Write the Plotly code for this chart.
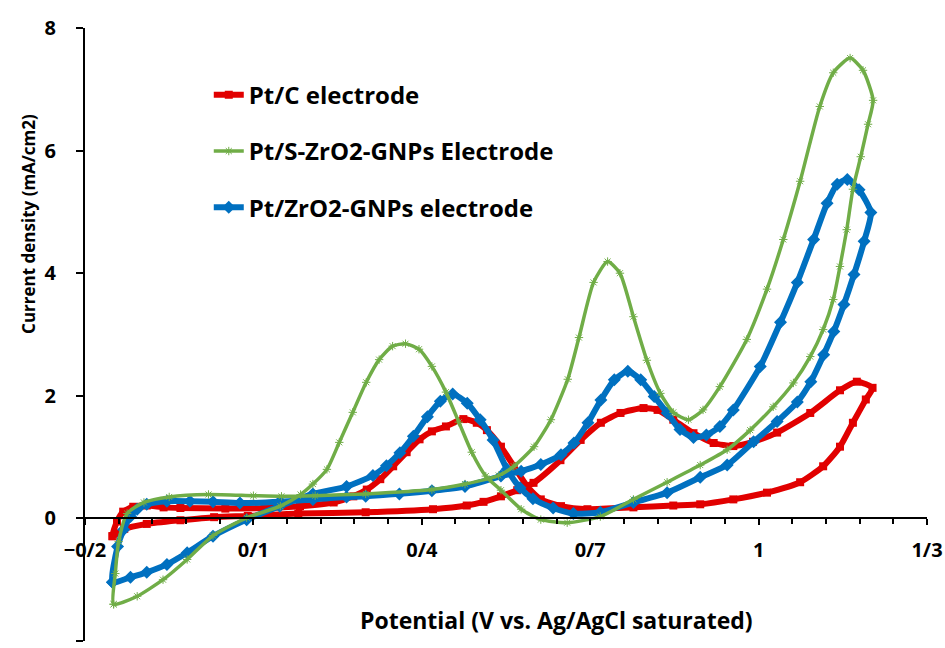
import plotly.graph_objects as go

# ---- data ----
ptc_potential = [-0.151, -0.13, -0.09, -0.03, 0.03, 0.09, 0.18, 0.30, 0.42, 0.48, 0.51, 0.541, 0.57,
                 0.599, 0.647, 0.683, 0.719, 0.754, 0.795, 0.820, 0.848, 0.884, 0.920, 0.955, 0.990,
                 1.033, 1.092, 1.145, 1.175, 1.203,
                 1.191, 1.168, 1.145, 1.115, 1.074, 1.015, 0.955, 0.896, 0.848, 0.777, 0.695, 0.648,
                 0.612, 0.588, 0.564, 0.541, 0.516, 0.498, 0.474, 0.443, 0.418, 0.396, 0.373, 0.349,
                 0.326, 0.302, 0.278, 0.243, 0.183, 0.12, 0.05, -0.03, -0.06, -0.09, -0.114, -0.132,
                 -0.143, -0.151]
ptc_current = [-0.29, -0.17, -0.09, -0.03, 0.02, 0.04, 0.08, 0.10, 0.15, 0.21, 0.27, 0.36, 0.46,
               0.58, 0.95, 1.28, 1.56, 1.72, 1.80, 1.77, 1.61, 1.39, 1.23, 1.18, 1.25,
               1.40, 1.72, 2.09, 2.23, 2.13,
               1.94, 1.56, 1.17, 0.85, 0.59, 0.42, 0.31, 0.23, 0.21, 0.18, 0.15, 0.20,
               0.31, 0.52, 0.85, 1.17, 1.44, 1.56, 1.62, 1.50, 1.42, 1.29, 1.08, 0.85,
               0.64, 0.47, 0.36, 0.26, 0.20, 0.17, 0.16, 0.17, 0.18, 0.21, 0.19, 0.11,
               -0.05, -0.29]

szrgnp_potential = [-0.149, -0.146, -0.140, -0.125, -0.095, -0.05, 0.02, 0.10, 0.15, 0.21, 0.30, 0.418,
                    0.477, 0.537, 0.564, 0.600, 0.630, 0.660, 0.680, 0.706, 0.731, 0.753, 0.777, 0.801,
                    0.825, 0.848, 0.875, 0.901, 0.931, 0.979, 1.015, 1.044, 1.074, 1.109, 1.133, 1.163,
                    1.186, 1.204,
                    1.195, 1.182, 1.168, 1.157, 1.145, 1.133, 1.115, 1.092, 1.062, 1.026, 0.985, 0.944,
                    0.896, 0.837, 0.777, 0.718, 0.659, 0.612, 0.577, 0.541, 0.514, 0.489, 0.466, 0.443,
                    0.418, 0.395, 0.371, 0.348, 0.324, 0.301, 0.277, 0.253, 0.231, 0.206, 0.184, 0.148,
                    0.088, 0.028, -0.018, -0.061, -0.107, -0.149]
szrgnp_current = [-1.40, -0.90, -0.38, 0.08, 0.26, 0.35, 0.39, 0.37, 0.36, 0.37, 0.40, 0.47,
                  0.56, 0.70, 0.85, 1.17, 1.61, 2.27, 2.95, 3.85, 4.19, 4.00, 3.29, 2.58,
                  2.04, 1.73, 1.61, 1.77, 2.15, 2.92, 3.74, 4.55, 5.50, 6.72, 7.27, 7.51,
                  7.31, 6.82,
                  6.43, 5.90, 5.37, 4.71, 4.11, 3.57, 3.08, 2.64, 2.21, 1.82, 1.44, 1.12,
                  0.87, 0.59, 0.31, 0.03, -0.07, -0.02, 0.15, 0.46, 0.69, 1.08, 1.57, 2.06,
                  2.48, 2.76, 2.85, 2.81, 2.59, 2.22, 1.73, 1.24, 0.80, 0.56, 0.39, 0.20,
                  0.01, -0.28, -0.67, -1.00, -1.27, -1.40]

zrgnp_potential = [-0.151, -0.142, -0.131, -0.119, -0.107, -0.09, -0.054, -0.013, 0.028, 0.076, 0.147,
                   0.206, 0.266, 0.30, 0.36, 0.418, 0.477, 0.541, 0.577, 0.612, 0.648, 0.671, 0.696,
                   0.719, 0.743, 0.767, 0.790, 0.814, 0.837, 0.860, 0.884, 0.907, 0.931, 0.955, 1.003,
                   1.039, 1.069, 1.098, 1.122, 1.140, 1.158, 1.179, 1.200,
                   1.188, 1.170, 1.152, 1.134, 1.116, 1.093, 1.069, 1.033, 0.991, 0.944, 0.896, 0.837,
                   0.777, 0.718, 0.670, 0.634, 0.598, 0.575, 0.552, 0.527, 0.504, 0.481, 0.455, 0.433,
                   0.410, 0.385, 0.361, 0.337, 0.313, 0.266, 0.206, 0.147, 0.088, 0.028, -0.018,
                   -0.054, -0.09, -0.119, -0.151]
zrgnp_current = [-1.04, -0.46, -0.18, 0.03, 0.15, 0.23, 0.28, 0.28, 0.27, 0.25, 0.27,
                 0.31, 0.35, 0.36, 0.40, 0.45, 0.52, 0.69, 0.77, 0.88, 1.04, 1.23, 1.56,
                 1.93, 2.26, 2.40, 2.26, 1.99, 1.72, 1.45, 1.32, 1.36, 1.50, 1.77, 2.48,
                 3.20, 3.85, 4.55, 5.14, 5.45, 5.53, 5.36, 4.99,
                 4.52, 3.98, 3.49, 3.05, 2.67, 2.23, 1.90, 1.58, 1.25, 0.87, 0.67, 0.42,
                 0.26, 0.10, 0.08, 0.17, 0.32, 0.50, 0.80, 1.28, 1.61, 1.88, 2.03, 1.91,
                 1.66, 1.34, 1.07, 0.86, 0.70, 0.52, 0.40, 0.20, -0.02, -0.29, -0.56,
                 -0.75, -0.88, -0.96, -1.04]

series_names = ["Pt/C electrode", "Pt/S-ZrO2-GNPs Electrode", "Pt/ZrO2-GNPs electrode"]
x_tick_vals = [-0.2, 0.1, 0.4, 0.7, 1.0, 1.3]
x_tick_text = ["\u22120/2", "0/1", "0/4", "0/7", "1", "1/3"]
y_tick_vals = [-2, 0, 2, 4, 6, 8]
y_tick_text = ["\u22122", "0", "2", "4", "6", "8"]

FONT = "Open Sans"
RED = "#E10000"
GREEN = "#70AD47"
BLUE = "#0070C0"

fig = go.Figure()
fig.add_trace(go.Scatter(
    x=ptc_potential, y=ptc_current, name=series_names[0], mode="lines+markers",
    line=dict(color=RED, width=6, shape="spline", smoothing=0.6),
    marker=dict(symbol="square", size=8, color=RED),
    legendgroup="a", legendrank=1))
fig.add_trace(go.Scatter(
    x=zrgnp_potential, y=zrgnp_current, name=series_names[2], mode="lines+markers",
    line=dict(color=BLUE, width=6, shape="spline", smoothing=0.6),
    marker=dict(symbol="diamond", size=10, color=BLUE),
    legendgroup="c", legendrank=3))
fig.add_trace(go.Scatter(
    x=szrgnp_potential, y=szrgnp_current, name=series_names[1], mode="lines+markers",
    line=dict(color=GREEN, width=3.5, shape="spline", smoothing=0.6),
    marker=dict(symbol="asterisk-open", size=7, line=dict(color="#8BC46A", width=1)),
    legendgroup="b", legendrank=2))

fig.update_layout(
    width=945, height=648,
    margin=dict(l=85, r=18, t=28, b=7, autoexpand=False),
    paper_bgcolor="white", plot_bgcolor="white",
    font=dict(family=FONT, size=20, color="black", weight="bold"),
    showlegend=True,
    legend=dict(x=0.147, y=0.927, xanchor="left", yanchor="top", bgcolor="rgba(0,0,0,0)",
                font=dict(family=FONT, size=24, color="black", weight="bold"),
                tracegroupgap=22, itemwidth=30),
    xaxis=dict(range=[-0.2, 1.3], anchor="free", position=0.2, automargin=False,
               showline=True, linecolor="black", linewidth=2,
               showgrid=False, zeroline=False,
               tickmode="array", tickvals=x_tick_vals, ticktext=x_tick_text,
               ticks="outside", ticklen=6, tickwidth=1.5, tickcolor="black",
               ticklabelstandoff=8,
               minor=dict(dtick=0.06, tick0=-0.2, ticks="outside", ticklen=5, tickwidth=1.5,
                          tickcolor="black", showgrid=False),
               tickfont=dict(family=FONT, size=20, color="black", weight="bold")),
    yaxis=dict(range=[-2, 8], showline=True, linecolor="black", linewidth=2, automargin=False,
               showgrid=False, zeroline=False,
               tickmode="array", tickvals=y_tick_vals, ticktext=y_tick_text,
               ticks="outside", ticklen=7, tickwidth=1.5, tickcolor="black",
               ticklabelstandoff=16,
               tickfont=dict(family=FONT, size=20, color="black", weight="bold")),
    annotations=[
        dict(text="Potential (V vs. Ag/AgCl saturated)", xref="paper", yref="paper",
             x=0.56, y=0.034, showarrow=False, xanchor="center", yanchor="middle",
             font=dict(family=FONT, size=23, color="black", weight="bold")),
        dict(text="Current density (mA/cm2)", xref="paper", yref="paper",
             x=-0.068, y=0.68, showarrow=False, textangle=-90, xanchor="center", yanchor="middle",
             font=dict(family=FONT, size=17, color="black", weight="bold")),
    ],
)

fig.write_html("out.html", config={"displayModeBar": False},
               post_script="document.body.style.margin='0';document.body.style.padding='0';")
